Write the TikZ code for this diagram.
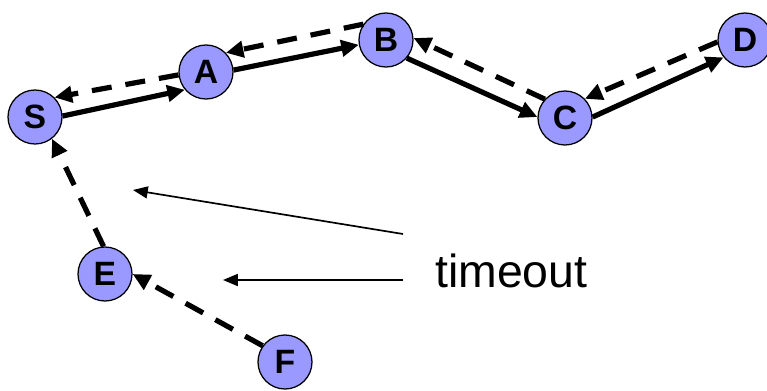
\documentclass[tikz,border=0pt]{standalone}
\usepackage{fontspec}
\setmainfont{Liberation Sans}
\usetikzlibrary{arrows.meta, positioning}
\definecolor{peerfill}{RGB}{153,153,255}

\begin{document}
\begin{tikzpicture}[
    peer/.style={circle, draw, line width=0.9pt, fill=peerfill, inner sep=0pt,
                 minimum size=1.35cm, font=\bfseries\fontsize{24}{26}\selectfont},
    fwd/.style={line width=3.7pt, -{Triangle[length=12.5pt, width=11.5pt]}},
    back/.style={fwd, dash pattern=on 0.5cm off 0.35cm},
    note/.style={line width=1.2pt, -{Triangle[length=10.5pt, width=8.5pt]}}
  ]
  \useasboundingbox (0,0) rectangle (19.175,9.75);

  \foreach \n/\x/\y in {S/0.875/6.825, A/5.15/7.95, B/9.65/8.75,
                        C/14.125/6.8, D/18.625/8.75, E/2.625/2.9, F/7.125/0.7} {
    \node[peer] (\n) at (\x,\y) {\n};
  }

  % route request, solid
  \foreach \a/\p/\b/\q in {S/2/A/220, A/4/B/190, B/319/C/178, C/2/D/219} {
    \draw[fwd] (\a.\p) -- (\b.\q);
  }

  % replies coming back, dashed
  \foreach \a/\p/\b/\q in {A/186/S/45, B/145/A/44, C/137/B/4, D/184/C/44,
                           E/93/S/308, F/144/E/0} {
    \draw[back] (\a.\p) -- (\b.\q);
  }

  \node[anchor=base west, inner sep=0pt, font=\fontsize{33}{36}\selectfont]
    (timeout) at (10.875,2.575) {timeout};
  \coordinate (to1) at (10.075,3.9);
  \coordinate (to2) at (10.075,2.75);
  \coordinate (hit1) at (3.325,5.0);
  \coordinate (hit2) at (5.575,2.75);
  \draw[note] (to1) -- (hit1);
  \draw[note] (to2) -- (hit2);
\end{tikzpicture}
\end{document}
